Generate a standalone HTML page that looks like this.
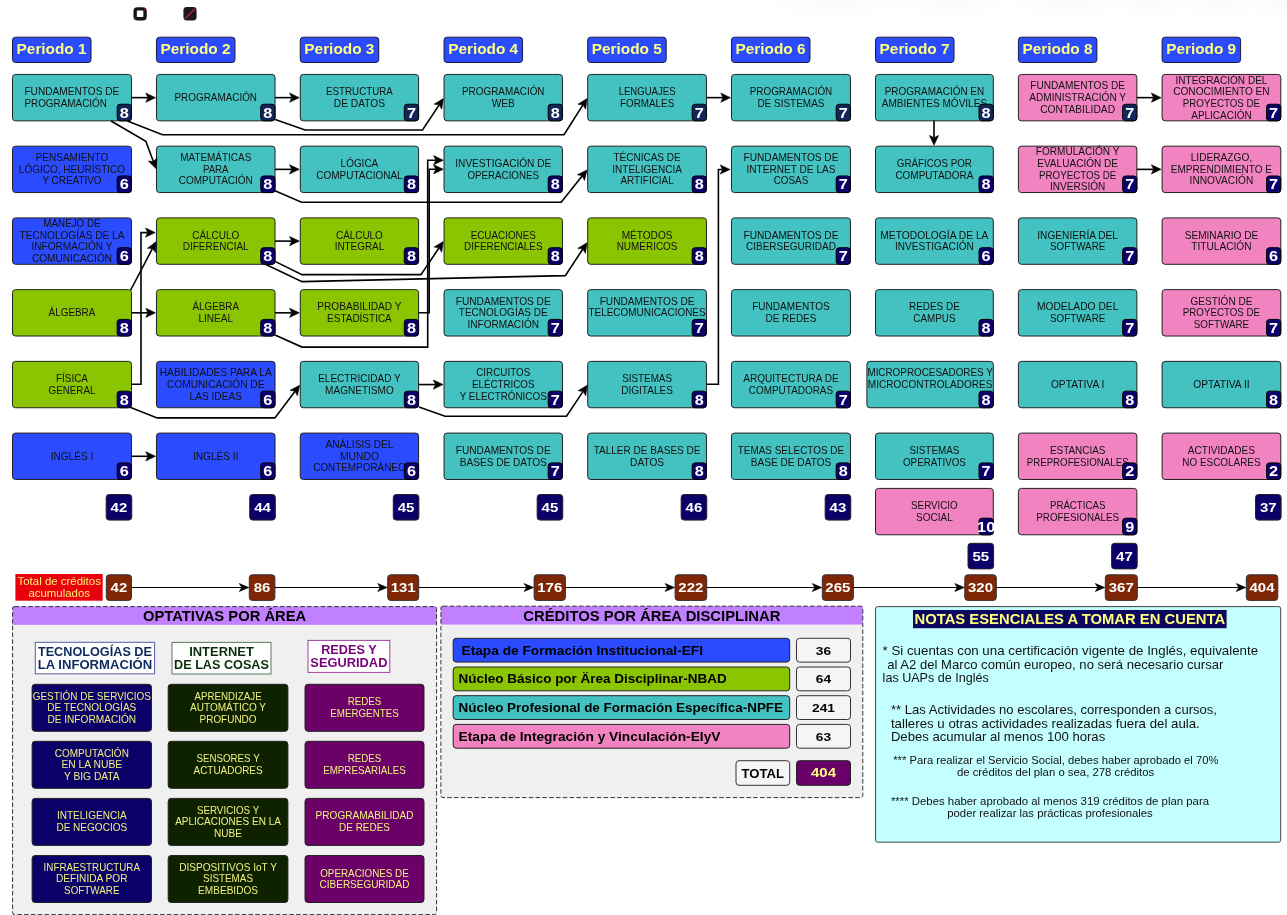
<!DOCTYPE html>
<html><head><meta charset="utf-8"><title>Plan de estudios</title>
<style>
html,body{margin:0;padding:0;background:#fff;width:1287px;height:915px;overflow:hidden}
svg{display:block;will-change:transform;font-family:"Liberation Sans",sans-serif}
text{white-space:pre}
</style></head><body>
<svg width="1287" height="915" viewBox="0 0 1287 915">
<defs><radialGradient id="haze" cx="0.5" cy="0.5" r="0.5"><stop offset="0" stop-color="#000" stop-opacity="0.022"/><stop offset="1" stop-color="#000" stop-opacity="0"/></radialGradient></defs>
<ellipse cx="835" cy="-2" rx="75" ry="22" fill="url(#haze)"/><ellipse cx="950" cy="-2" rx="60" ry="22" fill="url(#haze)"/><ellipse cx="1070" cy="-2" rx="70" ry="22" fill="url(#haze)"/><ellipse cx="1150" cy="-2" rx="45" ry="22" fill="url(#haze)"/><ellipse cx="1220" cy="-2" rx="55" ry="22" fill="url(#haze)"/><ellipse cx="1287" cy="-2" rx="45" ry="22" fill="url(#haze)"/>
<rect x="12.50" y="37.20" width="78.50" height="25.30" rx="3" fill="#2b4bff" stroke="#1a1a40" stroke-width="1" />
<text x="16.62" y="54.30" font-size="13.78" font-weight="bold" fill="#ffff80" textLength="69.95" lengthAdjust="spacingAndGlyphs" >Periodo 1</text>
<rect x="156.47" y="37.20" width="78.50" height="25.30" rx="3" fill="#2b4bff" stroke="#1a1a40" stroke-width="1" />
<text x="160.59" y="54.30" font-size="13.78" font-weight="bold" fill="#ffff80" textLength="69.95" lengthAdjust="spacingAndGlyphs" >Periodo 2</text>
<rect x="300.27" y="37.20" width="78.50" height="25.30" rx="3" fill="#2b4bff" stroke="#1a1a40" stroke-width="1" />
<text x="304.39" y="54.30" font-size="13.78" font-weight="bold" fill="#ffff80" textLength="69.95" lengthAdjust="spacingAndGlyphs" >Periodo 3</text>
<rect x="444.04" y="37.20" width="78.50" height="25.30" rx="3" fill="#2b4bff" stroke="#1a1a40" stroke-width="1" />
<text x="448.16" y="54.30" font-size="13.78" font-weight="bold" fill="#ffff80" textLength="69.95" lengthAdjust="spacingAndGlyphs" >Periodo 4</text>
<rect x="587.70" y="37.20" width="78.50" height="25.30" rx="3" fill="#2b4bff" stroke="#1a1a40" stroke-width="1" />
<text x="591.82" y="54.30" font-size="13.78" font-weight="bold" fill="#ffff80" textLength="69.95" lengthAdjust="spacingAndGlyphs" >Periodo 5</text>
<rect x="731.47" y="37.20" width="78.50" height="25.30" rx="3" fill="#2b4bff" stroke="#1a1a40" stroke-width="1" />
<text x="735.59" y="54.30" font-size="13.78" font-weight="bold" fill="#ffff80" textLength="69.95" lengthAdjust="spacingAndGlyphs" >Periodo 6</text>
<rect x="875.50" y="37.20" width="78.50" height="25.30" rx="3" fill="#2b4bff" stroke="#1a1a40" stroke-width="1" />
<text x="879.62" y="54.30" font-size="13.78" font-weight="bold" fill="#ffff80" textLength="69.95" lengthAdjust="spacingAndGlyphs" >Periodo 7</text>
<rect x="1018.40" y="37.20" width="78.50" height="25.30" rx="3" fill="#2b4bff" stroke="#1a1a40" stroke-width="1" />
<text x="1022.52" y="54.30" font-size="13.78" font-weight="bold" fill="#ffff80" textLength="69.95" lengthAdjust="spacingAndGlyphs" >Periodo 8</text>
<rect x="1162.10" y="37.20" width="78.50" height="25.30" rx="3" fill="#2b4bff" stroke="#1a1a40" stroke-width="1" />
<text x="1166.22" y="54.30" font-size="13.78" font-weight="bold" fill="#ffff80" textLength="69.95" lengthAdjust="spacingAndGlyphs" >Periodo 9</text>
<rect x="12.50" y="74.44" width="118.97" height="46.40" rx="3" fill="#44c1c1" stroke="#222" stroke-width="1" />
<text x="24.40" y="95.22" font-size="10.60"  fill="#111" textLength="94.87" lengthAdjust="spacingAndGlyphs" >FUNDAMENTOS DE</text>
<text x="24.40" y="106.87" font-size="10.60"  fill="#111" textLength="82.56" lengthAdjust="spacingAndGlyphs" >PROGRAMACIÓN</text>
<rect x="117.17" y="104.24" width="14.30" height="16.60" rx="3" fill="#13265a" stroke="#000" stroke-width="1" />
<text x="119.80" y="117.64" font-size="13.78" font-weight="bold" fill="#fff" textLength="9.05" lengthAdjust="spacingAndGlyphs" >8</text>
<rect x="12.50" y="146.17" width="118.97" height="46.40" rx="3" fill="#2b4bff" stroke="#222" stroke-width="1" />
<text x="35.71" y="161.12" font-size="10.60"  fill="#111" textLength="72.56" lengthAdjust="spacingAndGlyphs" >PENSAMIENTO</text>
<text x="18.83" y="172.77" font-size="10.60"  fill="#111" textLength="106.31" lengthAdjust="spacingAndGlyphs" >LÓGICO, HEURÍSTICO</text>
<text x="42.39" y="184.42" font-size="10.60"  fill="#111" textLength="59.19" lengthAdjust="spacingAndGlyphs" >Y CREATIVO</text>
<rect x="117.17" y="175.97" width="14.30" height="16.60" rx="3" fill="#0c006c" stroke="#000" stroke-width="1" />
<text x="119.80" y="189.37" font-size="13.78" font-weight="bold" fill="#fff" textLength="9.05" lengthAdjust="spacingAndGlyphs" >6</text>
<rect x="12.50" y="217.90" width="118.97" height="46.40" rx="3" fill="#2b4bff" stroke="#222" stroke-width="1" />
<text x="43.34" y="227.03" font-size="10.60"  fill="#111" textLength="57.29" lengthAdjust="spacingAndGlyphs" >MANEJO DE</text>
<text x="19.61" y="238.68" font-size="10.60"  fill="#111" textLength="104.75" lengthAdjust="spacingAndGlyphs" >TECNOLOGÍAS DE LA</text>
<text x="31.55" y="250.33" font-size="10.60"  fill="#111" textLength="80.86" lengthAdjust="spacingAndGlyphs" >INFORMACIÓN Y</text>
<text x="31.90" y="261.98" font-size="10.60"  fill="#111" textLength="80.16" lengthAdjust="spacingAndGlyphs" >COMUNICACIÓN</text>
<rect x="117.17" y="247.70" width="14.30" height="16.60" rx="3" fill="#0c006c" stroke="#000" stroke-width="1" />
<text x="119.80" y="261.10" font-size="13.78" font-weight="bold" fill="#fff" textLength="9.05" lengthAdjust="spacingAndGlyphs" >6</text>
<rect x="12.50" y="289.63" width="118.97" height="46.40" rx="3" fill="#8bc400" stroke="#222" stroke-width="1" />
<text x="48.62" y="316.23" font-size="10.60"  fill="#111" textLength="46.72" lengthAdjust="spacingAndGlyphs" >ÁLGEBRA</text>
<rect x="117.17" y="319.43" width="14.30" height="16.60" rx="3" fill="#0c006c" stroke="#000" stroke-width="1" />
<text x="119.80" y="332.83" font-size="13.78" font-weight="bold" fill="#fff" textLength="9.05" lengthAdjust="spacingAndGlyphs" >8</text>
<rect x="12.50" y="361.36" width="118.97" height="46.40" rx="3" fill="#8bc400" stroke="#222" stroke-width="1" />
<text x="56.07" y="382.13" font-size="10.60"  fill="#111" textLength="31.82" lengthAdjust="spacingAndGlyphs" >FÍSICA</text>
<text x="48.57" y="393.78" font-size="10.60"  fill="#111" textLength="46.82" lengthAdjust="spacingAndGlyphs" >GENERAL</text>
<rect x="117.17" y="391.16" width="14.30" height="16.60" rx="3" fill="#0c006c" stroke="#000" stroke-width="1" />
<text x="119.80" y="404.56" font-size="13.78" font-weight="bold" fill="#fff" textLength="9.05" lengthAdjust="spacingAndGlyphs" >8</text>
<rect x="12.50" y="433.09" width="118.97" height="46.40" rx="3" fill="#2b4bff" stroke="#222" stroke-width="1" />
<text x="50.71" y="459.69" font-size="10.60"  fill="#111" textLength="42.54" lengthAdjust="spacingAndGlyphs" >INGLÉS I</text>
<rect x="117.17" y="462.89" width="14.30" height="16.60" rx="3" fill="#0c006c" stroke="#000" stroke-width="1" />
<text x="119.80" y="476.29" font-size="13.78" font-weight="bold" fill="#fff" textLength="9.05" lengthAdjust="spacingAndGlyphs" >6</text>
<rect x="156.47" y="74.44" width="118.55" height="46.40" rx="3" fill="#44c1c1" stroke="#222" stroke-width="1" />
<text x="174.47" y="101.04" font-size="10.60"  fill="#111" textLength="82.56" lengthAdjust="spacingAndGlyphs" >PROGRAMACIÓN</text>
<rect x="260.72" y="104.24" width="14.30" height="16.60" rx="3" fill="#13265a" stroke="#000" stroke-width="1" />
<text x="263.35" y="117.64" font-size="13.78" font-weight="bold" fill="#fff" textLength="9.05" lengthAdjust="spacingAndGlyphs" >8</text>
<rect x="156.47" y="146.17" width="118.55" height="46.40" rx="3" fill="#44c1c1" stroke="#222" stroke-width="1" />
<text x="180.22" y="161.12" font-size="10.60"  fill="#111" textLength="71.04" lengthAdjust="spacingAndGlyphs" >MATEMÁTICAS</text>
<text x="202.94" y="172.77" font-size="10.60"  fill="#111" textLength="25.62" lengthAdjust="spacingAndGlyphs" >PARA</text>
<text x="178.69" y="184.42" font-size="10.60"  fill="#111" textLength="74.11" lengthAdjust="spacingAndGlyphs" >COMPUTACIÓN</text>
<rect x="260.72" y="175.97" width="14.30" height="16.60" rx="3" fill="#0c006c" stroke="#000" stroke-width="1" />
<text x="263.35" y="189.37" font-size="13.78" font-weight="bold" fill="#fff" textLength="9.05" lengthAdjust="spacingAndGlyphs" >8</text>
<rect x="156.47" y="217.90" width="118.55" height="46.40" rx="3" fill="#8bc400" stroke="#222" stroke-width="1" />
<text x="192.35" y="238.68" font-size="10.60"  fill="#111" textLength="46.78" lengthAdjust="spacingAndGlyphs" >CÁLCULO</text>
<text x="182.84" y="250.33" font-size="10.60"  fill="#111" textLength="65.81" lengthAdjust="spacingAndGlyphs" >DIFERENCIAL</text>
<rect x="260.72" y="247.70" width="14.30" height="16.60" rx="3" fill="#0c006c" stroke="#000" stroke-width="1" />
<text x="263.35" y="261.10" font-size="13.78" font-weight="bold" fill="#fff" textLength="9.05" lengthAdjust="spacingAndGlyphs" >8</text>
<rect x="156.47" y="289.63" width="118.55" height="46.40" rx="3" fill="#8bc400" stroke="#222" stroke-width="1" />
<text x="192.38" y="310.40" font-size="10.60"  fill="#111" textLength="46.72" lengthAdjust="spacingAndGlyphs" >ÁLGEBRA</text>
<text x="198.38" y="322.05" font-size="10.60"  fill="#111" textLength="34.73" lengthAdjust="spacingAndGlyphs" >LINEAL</text>
<rect x="260.72" y="319.43" width="14.30" height="16.60" rx="3" fill="#0c006c" stroke="#000" stroke-width="1" />
<text x="263.35" y="332.83" font-size="13.78" font-weight="bold" fill="#fff" textLength="9.05" lengthAdjust="spacingAndGlyphs" >8</text>
<rect x="156.47" y="361.36" width="118.55" height="46.40" rx="3" fill="#2b4bff" stroke="#222" stroke-width="1" />
<text x="159.73" y="376.31" font-size="10.60"  fill="#111" textLength="112.04" lengthAdjust="spacingAndGlyphs" >HABILIDADES PARA LA</text>
<text x="167.07" y="387.96" font-size="10.60"  fill="#111" textLength="97.36" lengthAdjust="spacingAndGlyphs" >COMUNICACIÓN DE</text>
<text x="189.58" y="399.61" font-size="10.60"  fill="#111" textLength="52.32" lengthAdjust="spacingAndGlyphs" >LAS IDEAS</text>
<rect x="260.72" y="391.16" width="14.30" height="16.60" rx="3" fill="#0c006c" stroke="#000" stroke-width="1" />
<text x="263.35" y="404.56" font-size="13.78" font-weight="bold" fill="#fff" textLength="9.05" lengthAdjust="spacingAndGlyphs" >6</text>
<rect x="156.47" y="433.09" width="118.55" height="46.40" rx="3" fill="#2b4bff" stroke="#222" stroke-width="1" />
<text x="193.00" y="459.69" font-size="10.60"  fill="#111" textLength="45.49" lengthAdjust="spacingAndGlyphs" >INGLÉS II</text>
<rect x="260.72" y="462.89" width="14.30" height="16.60" rx="3" fill="#0c006c" stroke="#000" stroke-width="1" />
<text x="263.35" y="476.29" font-size="13.78" font-weight="bold" fill="#fff" textLength="9.05" lengthAdjust="spacingAndGlyphs" >6</text>
<rect x="300.27" y="74.44" width="118.31" height="46.40" rx="3" fill="#44c1c1" stroke="#222" stroke-width="1" />
<text x="326.01" y="95.22" font-size="10.60"  fill="#111" textLength="66.84" lengthAdjust="spacingAndGlyphs" >ESTRUCTURA</text>
<text x="333.87" y="106.87" font-size="10.60"  fill="#111" textLength="51.11" lengthAdjust="spacingAndGlyphs" >DE DATOS</text>
<rect x="404.28" y="104.24" width="14.30" height="16.60" rx="3" fill="#13265a" stroke="#000" stroke-width="1" />
<text x="406.91" y="117.64" font-size="13.78" font-weight="bold" fill="#fff" textLength="9.05" lengthAdjust="spacingAndGlyphs" >7</text>
<rect x="300.27" y="146.17" width="118.31" height="46.40" rx="3" fill="#44c1c1" stroke="#222" stroke-width="1" />
<text x="340.62" y="166.95" font-size="10.60"  fill="#111" textLength="37.61" lengthAdjust="spacingAndGlyphs" >LÓGICA</text>
<text x="316.16" y="178.60" font-size="10.60"  fill="#111" textLength="86.52" lengthAdjust="spacingAndGlyphs" >COMPUTACIONAL</text>
<rect x="404.28" y="175.97" width="14.30" height="16.60" rx="3" fill="#0c006c" stroke="#000" stroke-width="1" />
<text x="406.91" y="189.37" font-size="13.78" font-weight="bold" fill="#fff" textLength="9.05" lengthAdjust="spacingAndGlyphs" >8</text>
<rect x="300.27" y="217.90" width="118.31" height="46.40" rx="3" fill="#8bc400" stroke="#222" stroke-width="1" />
<text x="336.03" y="238.68" font-size="10.60"  fill="#111" textLength="46.78" lengthAdjust="spacingAndGlyphs" >CÁLCULO</text>
<text x="334.64" y="250.33" font-size="10.60"  fill="#111" textLength="49.56" lengthAdjust="spacingAndGlyphs" >INTEGRAL</text>
<rect x="404.28" y="247.70" width="14.30" height="16.60" rx="3" fill="#0c006c" stroke="#000" stroke-width="1" />
<text x="406.91" y="261.10" font-size="13.78" font-weight="bold" fill="#fff" textLength="9.05" lengthAdjust="spacingAndGlyphs" >8</text>
<rect x="300.27" y="289.63" width="118.31" height="46.40" rx="3" fill="#8bc400" stroke="#222" stroke-width="1" />
<text x="317.31" y="310.40" font-size="10.60"  fill="#111" textLength="84.23" lengthAdjust="spacingAndGlyphs" >PROBABILIDAD Y</text>
<text x="327.07" y="322.05" font-size="10.60"  fill="#111" textLength="64.72" lengthAdjust="spacingAndGlyphs" >ESTADÍSTICA</text>
<rect x="404.28" y="319.43" width="14.30" height="16.60" rx="3" fill="#0c006c" stroke="#000" stroke-width="1" />
<text x="406.91" y="332.83" font-size="13.78" font-weight="bold" fill="#fff" textLength="9.05" lengthAdjust="spacingAndGlyphs" >8</text>
<rect x="300.27" y="361.36" width="118.31" height="46.40" rx="3" fill="#44c1c1" stroke="#222" stroke-width="1" />
<text x="318.18" y="382.13" font-size="10.60"  fill="#111" textLength="82.48" lengthAdjust="spacingAndGlyphs" >ELECTRICIDAD Y</text>
<text x="325.05" y="393.78" font-size="10.60"  fill="#111" textLength="68.75" lengthAdjust="spacingAndGlyphs" >MAGNETISMO</text>
<rect x="404.28" y="391.16" width="14.30" height="16.60" rx="3" fill="#0c006c" stroke="#000" stroke-width="1" />
<text x="406.91" y="404.56" font-size="13.78" font-weight="bold" fill="#fff" textLength="9.05" lengthAdjust="spacingAndGlyphs" >8</text>
<rect x="300.27" y="433.09" width="118.31" height="46.40" rx="3" fill="#2b4bff" stroke="#222" stroke-width="1" />
<text x="325.38" y="448.04" font-size="10.60"  fill="#111" textLength="68.10" lengthAdjust="spacingAndGlyphs" >ANÁLISIS DEL</text>
<text x="339.93" y="459.69" font-size="10.60"  fill="#111" textLength="39.00" lengthAdjust="spacingAndGlyphs" >MUNDO</text>
<text x="313.25" y="471.34" font-size="10.60"  fill="#111" textLength="92.34" lengthAdjust="spacingAndGlyphs" >CONTEMPORÁNEO</text>
<rect x="404.28" y="462.89" width="14.30" height="16.60" rx="3" fill="#0c006c" stroke="#000" stroke-width="1" />
<text x="406.91" y="476.29" font-size="13.78" font-weight="bold" fill="#fff" textLength="9.05" lengthAdjust="spacingAndGlyphs" >6</text>
<rect x="444.04" y="74.44" width="118.42" height="46.40" rx="3" fill="#44c1c1" stroke="#222" stroke-width="1" />
<text x="461.97" y="95.22" font-size="10.60"  fill="#111" textLength="82.56" lengthAdjust="spacingAndGlyphs" >PROGRAMACIÓN</text>
<text x="491.72" y="106.87" font-size="10.60"  fill="#111" textLength="23.07" lengthAdjust="spacingAndGlyphs" >WEB</text>
<rect x="548.16" y="104.24" width="14.30" height="16.60" rx="3" fill="#13265a" stroke="#000" stroke-width="1" />
<text x="550.79" y="117.64" font-size="13.78" font-weight="bold" fill="#fff" textLength="9.05" lengthAdjust="spacingAndGlyphs" >8</text>
<rect x="444.04" y="146.17" width="118.42" height="46.40" rx="3" fill="#44c1c1" stroke="#222" stroke-width="1" />
<text x="455.31" y="166.95" font-size="10.60"  fill="#111" textLength="95.89" lengthAdjust="spacingAndGlyphs" >INVESTIGACIÓN DE</text>
<text x="467.56" y="178.60" font-size="10.60"  fill="#111" textLength="71.38" lengthAdjust="spacingAndGlyphs" >OPERACIONES</text>
<rect x="548.16" y="175.97" width="14.30" height="16.60" rx="3" fill="#0c006c" stroke="#000" stroke-width="1" />
<text x="550.79" y="189.37" font-size="13.78" font-weight="bold" fill="#fff" textLength="9.05" lengthAdjust="spacingAndGlyphs" >8</text>
<rect x="444.04" y="217.90" width="118.42" height="46.40" rx="3" fill="#8bc400" stroke="#222" stroke-width="1" />
<text x="470.63" y="238.68" font-size="10.60"  fill="#111" textLength="65.23" lengthAdjust="spacingAndGlyphs" >ECUACIONES</text>
<text x="464.01" y="250.33" font-size="10.60"  fill="#111" textLength="78.48" lengthAdjust="spacingAndGlyphs" >DIFERENCIALES</text>
<rect x="548.16" y="247.70" width="14.30" height="16.60" rx="3" fill="#0c006c" stroke="#000" stroke-width="1" />
<text x="550.79" y="261.10" font-size="13.78" font-weight="bold" fill="#fff" textLength="9.05" lengthAdjust="spacingAndGlyphs" >8</text>
<rect x="444.04" y="289.63" width="118.42" height="46.40" rx="3" fill="#44c1c1" stroke="#222" stroke-width="1" />
<text x="455.82" y="304.58" font-size="10.60"  fill="#111" textLength="94.87" lengthAdjust="spacingAndGlyphs" >FUNDAMENTOS DE</text>
<text x="458.78" y="316.23" font-size="10.60"  fill="#111" textLength="88.93" lengthAdjust="spacingAndGlyphs" >TECNOLOGÍAS DE</text>
<text x="467.46" y="327.88" font-size="10.60"  fill="#111" textLength="71.58" lengthAdjust="spacingAndGlyphs" >INFORMACIÓN</text>
<rect x="548.16" y="319.43" width="14.30" height="16.60" rx="3" fill="#0c006c" stroke="#000" stroke-width="1" />
<text x="550.79" y="332.83" font-size="13.78" font-weight="bold" fill="#fff" textLength="9.05" lengthAdjust="spacingAndGlyphs" >7</text>
<rect x="444.04" y="361.36" width="118.42" height="46.40" rx="3" fill="#44c1c1" stroke="#222" stroke-width="1" />
<text x="476.27" y="376.31" font-size="10.60"  fill="#111" textLength="53.96" lengthAdjust="spacingAndGlyphs" >CIRCUITOS</text>
<text x="472.05" y="387.96" font-size="10.60"  fill="#111" textLength="62.40" lengthAdjust="spacingAndGlyphs" >ELÉCTRICOS</text>
<text x="459.73" y="399.61" font-size="10.60"  fill="#111" textLength="87.04" lengthAdjust="spacingAndGlyphs" >Y ELECTRÓNICOS</text>
<rect x="548.16" y="391.16" width="14.30" height="16.60" rx="3" fill="#0c006c" stroke="#000" stroke-width="1" />
<text x="550.79" y="404.56" font-size="13.78" font-weight="bold" fill="#fff" textLength="9.05" lengthAdjust="spacingAndGlyphs" >7</text>
<rect x="444.04" y="433.09" width="118.42" height="46.40" rx="3" fill="#44c1c1" stroke="#222" stroke-width="1" />
<text x="455.82" y="453.87" font-size="10.60"  fill="#111" textLength="94.87" lengthAdjust="spacingAndGlyphs" >FUNDAMENTOS DE</text>
<text x="459.75" y="465.51" font-size="10.60"  fill="#111" textLength="87.01" lengthAdjust="spacingAndGlyphs" >BASES DE DATOS</text>
<rect x="548.16" y="462.89" width="14.30" height="16.60" rx="3" fill="#0c006c" stroke="#000" stroke-width="1" />
<text x="550.79" y="476.29" font-size="13.78" font-weight="bold" fill="#fff" textLength="9.05" lengthAdjust="spacingAndGlyphs" >7</text>
<rect x="587.70" y="74.44" width="118.76" height="46.40" rx="3" fill="#44c1c1" stroke="#222" stroke-width="1" />
<text x="618.63" y="95.22" font-size="10.60"  fill="#111" textLength="56.89" lengthAdjust="spacingAndGlyphs" >LENGUAJES</text>
<text x="619.94" y="106.87" font-size="10.60"  fill="#111" textLength="54.28" lengthAdjust="spacingAndGlyphs" >FORMALES</text>
<rect x="692.16" y="104.24" width="14.30" height="16.60" rx="3" fill="#13265a" stroke="#000" stroke-width="1" />
<text x="694.79" y="117.64" font-size="13.78" font-weight="bold" fill="#fff" textLength="9.05" lengthAdjust="spacingAndGlyphs" >7</text>
<rect x="587.70" y="146.17" width="118.76" height="46.40" rx="3" fill="#44c1c1" stroke="#222" stroke-width="1" />
<text x="613.48" y="161.12" font-size="10.60"  fill="#111" textLength="67.21" lengthAdjust="spacingAndGlyphs" >TÉCNICAS DE</text>
<text x="612.23" y="172.77" font-size="10.60"  fill="#111" textLength="69.70" lengthAdjust="spacingAndGlyphs" >INTELIGENCIA</text>
<text x="620.50" y="184.42" font-size="10.60"  fill="#111" textLength="53.16" lengthAdjust="spacingAndGlyphs" >ARTIFICIAL</text>
<rect x="692.16" y="175.97" width="14.30" height="16.60" rx="3" fill="#0c006c" stroke="#000" stroke-width="1" />
<text x="694.79" y="189.37" font-size="13.78" font-weight="bold" fill="#fff" textLength="9.05" lengthAdjust="spacingAndGlyphs" >8</text>
<rect x="587.70" y="217.90" width="118.76" height="46.40" rx="3" fill="#8bc400" stroke="#222" stroke-width="1" />
<text x="621.66" y="238.68" font-size="10.60"  fill="#111" textLength="50.84" lengthAdjust="spacingAndGlyphs" >MÉTODOS</text>
<text x="616.66" y="250.33" font-size="10.60"  fill="#111" textLength="60.84" lengthAdjust="spacingAndGlyphs" >NUMÉRICOS</text>
<rect x="692.16" y="247.70" width="14.30" height="16.60" rx="3" fill="#0c006c" stroke="#000" stroke-width="1" />
<text x="694.79" y="261.10" font-size="13.78" font-weight="bold" fill="#fff" textLength="9.05" lengthAdjust="spacingAndGlyphs" >8</text>
<rect x="587.70" y="289.63" width="118.76" height="46.40" rx="3" fill="#44c1c1" stroke="#222" stroke-width="1" />
<text x="599.65" y="304.58" font-size="10.60"  fill="#111" textLength="94.87" lengthAdjust="spacingAndGlyphs" >FUNDAMENTOS DE</text>
<text x="588.51" y="316.23" font-size="10.60"  fill="#111" textLength="117.14" lengthAdjust="spacingAndGlyphs" >TELECOMUNICACIONES</text>
<rect x="692.16" y="319.43" width="14.30" height="16.60" rx="3" fill="#0c006c" stroke="#000" stroke-width="1" />
<text x="694.79" y="332.83" font-size="13.78" font-weight="bold" fill="#fff" textLength="9.05" lengthAdjust="spacingAndGlyphs" >7</text>
<rect x="587.70" y="361.36" width="118.76" height="46.40" rx="3" fill="#44c1c1" stroke="#222" stroke-width="1" />
<text x="622.14" y="382.13" font-size="10.60"  fill="#111" textLength="49.89" lengthAdjust="spacingAndGlyphs" >SISTEMAS</text>
<text x="621.20" y="393.78" font-size="10.60"  fill="#111" textLength="51.76" lengthAdjust="spacingAndGlyphs" >DIGITALES</text>
<rect x="692.16" y="391.16" width="14.30" height="16.60" rx="3" fill="#0c006c" stroke="#000" stroke-width="1" />
<text x="694.79" y="404.56" font-size="13.78" font-weight="bold" fill="#fff" textLength="9.05" lengthAdjust="spacingAndGlyphs" >8</text>
<rect x="587.70" y="433.09" width="118.76" height="46.40" rx="3" fill="#44c1c1" stroke="#222" stroke-width="1" />
<text x="593.64" y="453.87" font-size="10.60"  fill="#111" textLength="106.87" lengthAdjust="spacingAndGlyphs" >TALLER DE BASES DE</text>
<text x="630.12" y="465.51" font-size="10.60"  fill="#111" textLength="33.92" lengthAdjust="spacingAndGlyphs" >DATOS</text>
<rect x="692.16" y="462.89" width="14.30" height="16.60" rx="3" fill="#0c006c" stroke="#000" stroke-width="1" />
<text x="694.79" y="476.29" font-size="13.78" font-weight="bold" fill="#fff" textLength="9.05" lengthAdjust="spacingAndGlyphs" >8</text>
<rect x="731.47" y="74.44" width="118.99" height="46.40" rx="3" fill="#44c1c1" stroke="#222" stroke-width="1" />
<text x="749.69" y="95.22" font-size="10.60"  fill="#111" textLength="82.56" lengthAdjust="spacingAndGlyphs" >PROGRAMACIÓN</text>
<text x="757.42" y="106.87" font-size="10.60"  fill="#111" textLength="67.09" lengthAdjust="spacingAndGlyphs" >DE SISTEMAS</text>
<rect x="836.16" y="104.24" width="14.30" height="16.60" rx="3" fill="#13265a" stroke="#000" stroke-width="1" />
<text x="838.79" y="117.64" font-size="13.78" font-weight="bold" fill="#fff" textLength="9.05" lengthAdjust="spacingAndGlyphs" >7</text>
<rect x="731.47" y="146.17" width="118.99" height="46.40" rx="3" fill="#44c1c1" stroke="#222" stroke-width="1" />
<text x="743.53" y="161.12" font-size="10.60"  fill="#111" textLength="94.87" lengthAdjust="spacingAndGlyphs" >FUNDAMENTOS DE</text>
<text x="746.43" y="172.77" font-size="10.60"  fill="#111" textLength="89.08" lengthAdjust="spacingAndGlyphs" >INTERNET DE LAS</text>
<text x="773.68" y="184.42" font-size="10.60"  fill="#111" textLength="34.58" lengthAdjust="spacingAndGlyphs" >COSAS</text>
<rect x="836.16" y="175.97" width="14.30" height="16.60" rx="3" fill="#0c006c" stroke="#000" stroke-width="1" />
<text x="838.79" y="189.37" font-size="13.78" font-weight="bold" fill="#fff" textLength="9.05" lengthAdjust="spacingAndGlyphs" >7</text>
<rect x="731.47" y="217.90" width="118.99" height="46.40" rx="3" fill="#44c1c1" stroke="#222" stroke-width="1" />
<text x="743.53" y="238.68" font-size="10.60"  fill="#111" textLength="94.87" lengthAdjust="spacingAndGlyphs" >FUNDAMENTOS DE</text>
<text x="746.09" y="250.33" font-size="10.60"  fill="#111" textLength="89.76" lengthAdjust="spacingAndGlyphs" >CIBERSEGURIDAD</text>
<rect x="836.16" y="247.70" width="14.30" height="16.60" rx="3" fill="#0c006c" stroke="#000" stroke-width="1" />
<text x="838.79" y="261.10" font-size="13.78" font-weight="bold" fill="#fff" textLength="9.05" lengthAdjust="spacingAndGlyphs" >7</text>
<rect x="731.47" y="289.63" width="118.99" height="46.40" rx="3" fill="#44c1c1" stroke="#222" stroke-width="1" />
<text x="752.13" y="310.40" font-size="10.60"  fill="#111" textLength="77.67" lengthAdjust="spacingAndGlyphs" >FUNDAMENTOS</text>
<text x="765.55" y="322.05" font-size="10.60"  fill="#111" textLength="50.83" lengthAdjust="spacingAndGlyphs" >DE REDES</text>
<rect x="731.47" y="361.36" width="118.99" height="46.40" rx="3" fill="#44c1c1" stroke="#222" stroke-width="1" />
<text x="743.29" y="382.13" font-size="10.60"  fill="#111" textLength="95.35" lengthAdjust="spacingAndGlyphs" >ARQUITECTURA DE</text>
<text x="748.81" y="393.78" font-size="10.60"  fill="#111" textLength="84.31" lengthAdjust="spacingAndGlyphs" >COMPUTADORAS</text>
<rect x="836.16" y="391.16" width="14.30" height="16.60" rx="3" fill="#0c006c" stroke="#000" stroke-width="1" />
<text x="838.79" y="404.56" font-size="13.78" font-weight="bold" fill="#fff" textLength="9.05" lengthAdjust="spacingAndGlyphs" >7</text>
<rect x="731.47" y="433.09" width="118.99" height="46.40" rx="3" fill="#44c1c1" stroke="#222" stroke-width="1" />
<text x="737.72" y="453.87" font-size="10.60"  fill="#111" textLength="106.48" lengthAdjust="spacingAndGlyphs" >TEMAS SELECTOS DE</text>
<text x="750.64" y="465.51" font-size="10.60"  fill="#111" textLength="80.66" lengthAdjust="spacingAndGlyphs" >BASE DE DATOS</text>
<rect x="836.16" y="462.89" width="14.30" height="16.60" rx="3" fill="#0c006c" stroke="#000" stroke-width="1" />
<text x="838.79" y="476.29" font-size="13.78" font-weight="bold" fill="#fff" textLength="9.05" lengthAdjust="spacingAndGlyphs" >8</text>
<rect x="875.50" y="74.44" width="117.80" height="46.40" rx="3" fill="#44c1c1" stroke="#222" stroke-width="1" />
<text x="884.63" y="95.22" font-size="10.60"  fill="#111" textLength="99.54" lengthAdjust="spacingAndGlyphs" >PROGRAMACIÓN EN</text>
<text x="881.71" y="106.87" font-size="10.60"  fill="#111" textLength="105.38" lengthAdjust="spacingAndGlyphs" >AMBIENTES MÓVILES</text>
<rect x="979.00" y="104.24" width="14.30" height="16.60" rx="3" fill="#13265a" stroke="#000" stroke-width="1" />
<text x="981.63" y="117.64" font-size="13.78" font-weight="bold" fill="#fff" textLength="9.05" lengthAdjust="spacingAndGlyphs" >8</text>
<rect x="875.50" y="146.17" width="117.80" height="46.40" rx="3" fill="#44c1c1" stroke="#222" stroke-width="1" />
<text x="896.87" y="166.95" font-size="10.60"  fill="#111" textLength="75.06" lengthAdjust="spacingAndGlyphs" >GRÁFICOS POR</text>
<text x="895.42" y="178.60" font-size="10.60"  fill="#111" textLength="77.96" lengthAdjust="spacingAndGlyphs" >COMPUTADORA</text>
<rect x="979.00" y="175.97" width="14.30" height="16.60" rx="3" fill="#0c006c" stroke="#000" stroke-width="1" />
<text x="981.63" y="189.37" font-size="13.78" font-weight="bold" fill="#fff" textLength="9.05" lengthAdjust="spacingAndGlyphs" >8</text>
<rect x="875.50" y="217.90" width="117.80" height="46.40" rx="3" fill="#44c1c1" stroke="#222" stroke-width="1" />
<text x="880.33" y="238.68" font-size="10.60"  fill="#111" textLength="108.14" lengthAdjust="spacingAndGlyphs" >METODOLOGÍA DE LA</text>
<text x="895.05" y="250.33" font-size="10.60"  fill="#111" textLength="78.69" lengthAdjust="spacingAndGlyphs" >INVESTIGACIÓN</text>
<rect x="979.00" y="247.70" width="14.30" height="16.60" rx="3" fill="#0c006c" stroke="#000" stroke-width="1" />
<text x="981.63" y="261.10" font-size="13.78" font-weight="bold" fill="#fff" textLength="9.05" lengthAdjust="spacingAndGlyphs" >6</text>
<rect x="875.50" y="289.63" width="117.80" height="46.40" rx="3" fill="#44c1c1" stroke="#222" stroke-width="1" />
<text x="908.98" y="310.40" font-size="10.60"  fill="#111" textLength="50.83" lengthAdjust="spacingAndGlyphs" >REDES DE</text>
<text x="913.33" y="322.05" font-size="10.60"  fill="#111" textLength="42.15" lengthAdjust="spacingAndGlyphs" >CAMPUS</text>
<rect x="979.00" y="319.43" width="14.30" height="16.60" rx="3" fill="#0c006c" stroke="#000" stroke-width="1" />
<text x="981.63" y="332.83" font-size="13.78" font-weight="bold" fill="#fff" textLength="9.05" lengthAdjust="spacingAndGlyphs" >8</text>
<rect x="866.90" y="361.36" width="126.40" height="46.40" rx="3" fill="#44c1c1" stroke="#222" stroke-width="1" />
<text x="867.41" y="376.31" font-size="10.60"  fill="#111" textLength="125.38" lengthAdjust="spacingAndGlyphs" >MICROPROCESADORES Y</text>
<text x="867.87" y="387.96" font-size="10.60"  fill="#111" textLength="124.47" lengthAdjust="spacingAndGlyphs" >MICROCONTROLADORES</text>
<rect x="979.00" y="391.16" width="14.30" height="16.60" rx="3" fill="#0c006c" stroke="#000" stroke-width="1" />
<text x="981.63" y="404.56" font-size="13.78" font-weight="bold" fill="#fff" textLength="9.05" lengthAdjust="spacingAndGlyphs" >8</text>
<rect x="875.50" y="433.09" width="117.80" height="46.40" rx="3" fill="#44c1c1" stroke="#222" stroke-width="1" />
<text x="909.46" y="453.87" font-size="10.60"  fill="#111" textLength="49.89" lengthAdjust="spacingAndGlyphs" >SISTEMAS</text>
<text x="903.02" y="465.51" font-size="10.60"  fill="#111" textLength="62.77" lengthAdjust="spacingAndGlyphs" >OPERATIVOS</text>
<rect x="979.00" y="462.89" width="14.30" height="16.60" rx="3" fill="#0c006c" stroke="#000" stroke-width="1" />
<text x="981.63" y="476.29" font-size="13.78" font-weight="bold" fill="#fff" textLength="9.05" lengthAdjust="spacingAndGlyphs" >7</text>
<rect x="875.50" y="488.40" width="117.80" height="46.40" rx="3" fill="#f283c1" stroke="#222" stroke-width="1" />
<text x="911.07" y="509.17" font-size="10.60"  fill="#111" textLength="46.66" lengthAdjust="spacingAndGlyphs" >SERVICIO</text>
<text x="916.12" y="520.82" font-size="10.60"  fill="#111" textLength="36.56" lengthAdjust="spacingAndGlyphs" >SOCIAL</text>
<rect x="979.00" y="518.20" width="14.30" height="16.60" rx="3" fill="#0c006c" stroke="#000" stroke-width="1" />
<text x="977.10" y="531.60" font-size="13.78" font-weight="bold" fill="#fff" textLength="18.09" lengthAdjust="spacingAndGlyphs" >10</text>
<rect x="1018.40" y="74.44" width="118.50" height="46.40" rx="3" fill="#f283c1" stroke="#222" stroke-width="1" />
<text x="1030.22" y="89.39" font-size="10.60"  fill="#111" textLength="94.87" lengthAdjust="spacingAndGlyphs" >FUNDAMENTOS DE</text>
<text x="1029.26" y="101.04" font-size="10.60"  fill="#111" textLength="96.78" lengthAdjust="spacingAndGlyphs" >ADMINISTRACIÓN Y</text>
<text x="1040.20" y="112.69" font-size="10.60"  fill="#111" textLength="74.90" lengthAdjust="spacingAndGlyphs" >CONTABILIDAD</text>
<rect x="1122.60" y="104.24" width="14.30" height="16.60" rx="3" fill="#13265a" stroke="#000" stroke-width="1" />
<text x="1125.23" y="117.64" font-size="13.78" font-weight="bold" fill="#fff" textLength="9.05" lengthAdjust="spacingAndGlyphs" >7</text>
<rect x="1018.40" y="146.17" width="118.50" height="46.40" rx="3" fill="#f283c1" stroke="#222" stroke-width="1" />
<text x="1035.87" y="155.30" font-size="10.60"  fill="#111" textLength="83.56" lengthAdjust="spacingAndGlyphs" >FORMULACIÓN Y</text>
<text x="1037.20" y="166.95" font-size="10.60"  fill="#111" textLength="80.90" lengthAdjust="spacingAndGlyphs" >EVALUACIÓN DE</text>
<text x="1039.03" y="178.60" font-size="10.60"  fill="#111" textLength="77.24" lengthAdjust="spacingAndGlyphs" >PROYECTOS DE</text>
<text x="1050.06" y="190.25" font-size="10.60"  fill="#111" textLength="55.19" lengthAdjust="spacingAndGlyphs" >INVERSIÓN</text>
<rect x="1122.60" y="175.97" width="14.30" height="16.60" rx="3" fill="#0c006c" stroke="#000" stroke-width="1" />
<text x="1125.23" y="189.37" font-size="13.78" font-weight="bold" fill="#fff" textLength="9.05" lengthAdjust="spacingAndGlyphs" >7</text>
<rect x="1018.40" y="217.90" width="118.50" height="46.40" rx="3" fill="#44c1c1" stroke="#222" stroke-width="1" />
<text x="1037.27" y="238.68" font-size="10.60"  fill="#111" textLength="80.75" lengthAdjust="spacingAndGlyphs" >INGENIERÍA DEL</text>
<text x="1049.97" y="250.33" font-size="10.60"  fill="#111" textLength="55.35" lengthAdjust="spacingAndGlyphs" >SOFTWARE</text>
<rect x="1122.60" y="247.70" width="14.30" height="16.60" rx="3" fill="#0c006c" stroke="#000" stroke-width="1" />
<text x="1125.23" y="261.10" font-size="13.78" font-weight="bold" fill="#fff" textLength="9.05" lengthAdjust="spacingAndGlyphs" >7</text>
<rect x="1018.40" y="289.63" width="118.50" height="46.40" rx="3" fill="#44c1c1" stroke="#222" stroke-width="1" />
<text x="1036.90" y="310.40" font-size="10.60"  fill="#111" textLength="81.50" lengthAdjust="spacingAndGlyphs" >MODELADO DEL</text>
<text x="1049.97" y="322.05" font-size="10.60"  fill="#111" textLength="55.35" lengthAdjust="spacingAndGlyphs" >SOFTWARE</text>
<rect x="1122.60" y="319.43" width="14.30" height="16.60" rx="3" fill="#0c006c" stroke="#000" stroke-width="1" />
<text x="1125.23" y="332.83" font-size="13.78" font-weight="bold" fill="#fff" textLength="9.05" lengthAdjust="spacingAndGlyphs" >7</text>
<rect x="1018.40" y="361.36" width="118.50" height="46.40" rx="3" fill="#44c1c1" stroke="#222" stroke-width="1" />
<text x="1050.89" y="387.96" font-size="10.60"  fill="#111" textLength="53.53" lengthAdjust="spacingAndGlyphs" >OPTATIVA I</text>
<rect x="1122.60" y="391.16" width="14.30" height="16.60" rx="3" fill="#0c006c" stroke="#000" stroke-width="1" />
<text x="1125.23" y="404.56" font-size="13.78" font-weight="bold" fill="#fff" textLength="9.05" lengthAdjust="spacingAndGlyphs" >8</text>
<rect x="1018.40" y="433.09" width="118.50" height="46.40" rx="3" fill="#f283c1" stroke="#222" stroke-width="1" />
<text x="1049.93" y="453.87" font-size="10.60"  fill="#111" textLength="55.44" lengthAdjust="spacingAndGlyphs" >ESTANCIAS</text>
<text x="1026.68" y="465.51" font-size="10.60"  fill="#111" textLength="101.94" lengthAdjust="spacingAndGlyphs" >PREPROFESIONALES</text>
<rect x="1122.60" y="462.89" width="14.30" height="16.60" rx="3" fill="#0c006c" stroke="#000" stroke-width="1" />
<text x="1125.23" y="476.29" font-size="13.78" font-weight="bold" fill="#fff" textLength="9.05" lengthAdjust="spacingAndGlyphs" >2</text>
<rect x="1018.40" y="488.40" width="118.50" height="46.40" rx="3" fill="#f283c1" stroke="#222" stroke-width="1" />
<text x="1049.93" y="509.17" font-size="10.60"  fill="#111" textLength="55.45" lengthAdjust="spacingAndGlyphs" >PRÁCTICAS</text>
<text x="1036.33" y="520.82" font-size="10.60"  fill="#111" textLength="82.65" lengthAdjust="spacingAndGlyphs" >PROFESIONALES</text>
<rect x="1122.60" y="518.20" width="14.30" height="16.60" rx="3" fill="#0c006c" stroke="#000" stroke-width="1" />
<text x="1125.23" y="531.60" font-size="13.78" font-weight="bold" fill="#fff" textLength="9.05" lengthAdjust="spacingAndGlyphs" >9</text>
<rect x="1162.10" y="74.44" width="118.70" height="46.40" rx="3" fill="#f283c1" stroke="#222" stroke-width="1" />
<text x="1175.52" y="83.56" font-size="10.60"  fill="#111" textLength="91.87" lengthAdjust="spacingAndGlyphs" >INTEGRACIÓN DEL</text>
<text x="1173.21" y="95.22" font-size="10.60"  fill="#111" textLength="96.47" lengthAdjust="spacingAndGlyphs" >CONOCIMIENTO EN</text>
<text x="1182.83" y="106.86" font-size="10.60"  fill="#111" textLength="77.24" lengthAdjust="spacingAndGlyphs" >PROYECTOS DE</text>
<text x="1191.29" y="118.52" font-size="10.60"  fill="#111" textLength="60.32" lengthAdjust="spacingAndGlyphs" >APLICACIÓN</text>
<rect x="1266.50" y="104.24" width="14.30" height="16.60" rx="3" fill="#0c006c" stroke="#000" stroke-width="1" />
<text x="1269.13" y="117.64" font-size="13.78" font-weight="bold" fill="#fff" textLength="9.05" lengthAdjust="spacingAndGlyphs" >7</text>
<rect x="1162.10" y="146.17" width="118.70" height="46.40" rx="3" fill="#f283c1" stroke="#222" stroke-width="1" />
<text x="1190.66" y="161.12" font-size="10.60"  fill="#111" textLength="61.57" lengthAdjust="spacingAndGlyphs" >LIDERAZGO,</text>
<text x="1170.84" y="172.77" font-size="10.60"  fill="#111" textLength="101.23" lengthAdjust="spacingAndGlyphs" >EMPRENDIMIENTO E</text>
<text x="1189.57" y="184.42" font-size="10.60"  fill="#111" textLength="63.75" lengthAdjust="spacingAndGlyphs" >INNOVACIÓN</text>
<rect x="1266.50" y="175.97" width="14.30" height="16.60" rx="3" fill="#0c006c" stroke="#000" stroke-width="1" />
<text x="1269.13" y="189.37" font-size="13.78" font-weight="bold" fill="#fff" textLength="9.05" lengthAdjust="spacingAndGlyphs" >7</text>
<rect x="1162.10" y="217.90" width="118.70" height="46.40" rx="3" fill="#f283c1" stroke="#222" stroke-width="1" />
<text x="1184.68" y="238.68" font-size="10.60"  fill="#111" textLength="73.53" lengthAdjust="spacingAndGlyphs" >SEMINARIO DE</text>
<text x="1191.33" y="250.33" font-size="10.60"  fill="#111" textLength="60.23" lengthAdjust="spacingAndGlyphs" >TITULACIÓN</text>
<rect x="1266.50" y="247.70" width="14.30" height="16.60" rx="3" fill="#0c006c" stroke="#000" stroke-width="1" />
<text x="1269.13" y="261.10" font-size="13.78" font-weight="bold" fill="#fff" textLength="9.05" lengthAdjust="spacingAndGlyphs" >6</text>
<rect x="1162.10" y="289.63" width="118.70" height="46.40" rx="3" fill="#f283c1" stroke="#222" stroke-width="1" />
<text x="1190.44" y="304.58" font-size="10.60"  fill="#111" textLength="62.02" lengthAdjust="spacingAndGlyphs" >GESTIÓN DE</text>
<text x="1182.83" y="316.23" font-size="10.60"  fill="#111" textLength="77.24" lengthAdjust="spacingAndGlyphs" >PROYECTOS DE</text>
<text x="1193.77" y="327.88" font-size="10.60"  fill="#111" textLength="55.35" lengthAdjust="spacingAndGlyphs" >SOFTWARE</text>
<rect x="1266.50" y="319.43" width="14.30" height="16.60" rx="3" fill="#0c006c" stroke="#000" stroke-width="1" />
<text x="1269.13" y="332.83" font-size="13.78" font-weight="bold" fill="#fff" textLength="9.05" lengthAdjust="spacingAndGlyphs" >7</text>
<rect x="1162.10" y="361.36" width="118.70" height="46.40" rx="3" fill="#44c1c1" stroke="#222" stroke-width="1" />
<text x="1193.21" y="387.96" font-size="10.60"  fill="#111" textLength="56.47" lengthAdjust="spacingAndGlyphs" >OPTATIVA II</text>
<rect x="1266.50" y="391.16" width="14.30" height="16.60" rx="3" fill="#0c006c" stroke="#000" stroke-width="1" />
<text x="1269.13" y="404.56" font-size="13.78" font-weight="bold" fill="#fff" textLength="9.05" lengthAdjust="spacingAndGlyphs" >8</text>
<rect x="1162.10" y="433.09" width="118.70" height="46.40" rx="3" fill="#f283c1" stroke="#222" stroke-width="1" />
<text x="1187.84" y="453.87" font-size="10.60"  fill="#111" textLength="67.23" lengthAdjust="spacingAndGlyphs" >ACTIVIDADES</text>
<text x="1182.30" y="465.51" font-size="10.60"  fill="#111" textLength="78.31" lengthAdjust="spacingAndGlyphs" >NO ESCOLARES</text>
<rect x="1266.50" y="462.89" width="14.30" height="16.60" rx="3" fill="#0c006c" stroke="#000" stroke-width="1" />
<text x="1269.13" y="476.29" font-size="13.78" font-weight="bold" fill="#fff" textLength="9.05" lengthAdjust="spacingAndGlyphs" >2</text>
<rect x="106.17" y="494.50" width="25.60" height="25.60" rx="3" fill="#0b006a" stroke="#222" stroke-width="1" />
<text x="110.62" y="511.90" font-size="12.72" font-weight="bold" fill="#fff" textLength="16.70" lengthAdjust="spacingAndGlyphs" >42</text>
<rect x="249.72" y="494.50" width="25.60" height="25.60" rx="3" fill="#0b006a" stroke="#222" stroke-width="1" />
<text x="254.17" y="511.90" font-size="12.72" font-weight="bold" fill="#fff" textLength="16.70" lengthAdjust="spacingAndGlyphs" >44</text>
<rect x="393.28" y="494.50" width="25.60" height="25.60" rx="3" fill="#0b006a" stroke="#222" stroke-width="1" />
<text x="397.73" y="511.90" font-size="12.72" font-weight="bold" fill="#fff" textLength="16.70" lengthAdjust="spacingAndGlyphs" >45</text>
<rect x="537.16" y="494.50" width="25.60" height="25.60" rx="3" fill="#0b006a" stroke="#222" stroke-width="1" />
<text x="541.61" y="511.90" font-size="12.72" font-weight="bold" fill="#fff" textLength="16.70" lengthAdjust="spacingAndGlyphs" >45</text>
<rect x="681.16" y="494.50" width="25.60" height="25.60" rx="3" fill="#0b006a" stroke="#222" stroke-width="1" />
<text x="685.61" y="511.90" font-size="12.72" font-weight="bold" fill="#fff" textLength="16.70" lengthAdjust="spacingAndGlyphs" >46</text>
<rect x="825.16" y="494.50" width="25.60" height="25.60" rx="3" fill="#0b006a" stroke="#222" stroke-width="1" />
<text x="829.61" y="511.90" font-size="12.72" font-weight="bold" fill="#fff" textLength="16.70" lengthAdjust="spacingAndGlyphs" >43</text>
<rect x="968.00" y="543.30" width="25.60" height="25.60" rx="3" fill="#0b006a" stroke="#222" stroke-width="1" />
<text x="972.45" y="560.70" font-size="12.72" font-weight="bold" fill="#fff" textLength="16.70" lengthAdjust="spacingAndGlyphs" >55</text>
<rect x="1111.60" y="543.30" width="25.60" height="25.60" rx="3" fill="#0b006a" stroke="#222" stroke-width="1" />
<text x="1116.05" y="560.70" font-size="12.72" font-weight="bold" fill="#fff" textLength="16.70" lengthAdjust="spacingAndGlyphs" >47</text>
<rect x="1255.50" y="494.50" width="25.60" height="25.60" rx="3" fill="#0b006a" stroke="#222" stroke-width="1" />
<text x="1259.95" y="511.90" font-size="12.72" font-weight="bold" fill="#fff" textLength="16.70" lengthAdjust="spacingAndGlyphs" >37</text>
<path d="M131.47,97.64 L147.97,97.64" fill="none" stroke="#000" stroke-width="1.6" stroke-linejoin="miter"/>
<path d="M155.47,97.64 L145.77,102.24 L147.97,97.64 L145.77,93.04 Z" fill="#000" stroke="#000" stroke-width="0.6"/>
<path d="M275.02,97.64 L291.77,97.64" fill="none" stroke="#000" stroke-width="1.6" stroke-linejoin="miter"/>
<path d="M299.27,97.64 L289.57,102.24 L291.77,97.64 L289.57,93.04 Z" fill="#000" stroke="#000" stroke-width="0.6"/>
<path d="M706.46,97.64 L722.97,97.64" fill="none" stroke="#000" stroke-width="1.6" stroke-linejoin="miter"/>
<path d="M730.47,97.64 L720.77,102.24 L722.97,97.64 L720.77,93.04 Z" fill="#000" stroke="#000" stroke-width="0.6"/>
<path d="M1136.90,97.64 L1153.60,97.64" fill="none" stroke="#000" stroke-width="1.6" stroke-linejoin="miter"/>
<path d="M1161.10,97.64 L1151.40,102.24 L1153.60,97.64 L1151.40,93.04 Z" fill="#000" stroke="#000" stroke-width="0.6"/>
<path d="M1136.90,169.37 L1153.60,169.37" fill="none" stroke="#000" stroke-width="1.6" stroke-linejoin="miter"/>
<path d="M1161.10,169.37 L1151.40,173.97 L1153.60,169.37 L1151.40,164.77 Z" fill="#000" stroke="#000" stroke-width="0.6"/>
<path d="M275.02,169.37 L291.77,169.37" fill="none" stroke="#000" stroke-width="1.6" stroke-linejoin="miter"/>
<path d="M299.27,169.37 L289.57,173.97 L291.77,169.37 L289.57,164.77 Z" fill="#000" stroke="#000" stroke-width="0.6"/>
<path d="M275.02,241.10 L291.77,241.10" fill="none" stroke="#000" stroke-width="1.6" stroke-linejoin="miter"/>
<path d="M299.27,241.10 L289.57,245.70 L291.77,241.10 L289.57,236.50 Z" fill="#000" stroke="#000" stroke-width="0.6"/>
<path d="M131.47,312.83 L147.97,312.83" fill="none" stroke="#000" stroke-width="1.6" stroke-linejoin="miter"/>
<path d="M155.47,312.83 L145.77,317.43 L147.97,312.83 L145.77,308.23 Z" fill="#000" stroke="#000" stroke-width="0.6"/>
<path d="M275.02,312.83 L291.77,312.83" fill="none" stroke="#000" stroke-width="1.6" stroke-linejoin="miter"/>
<path d="M299.27,312.83 L289.57,317.43 L291.77,312.83 L289.57,308.23 Z" fill="#000" stroke="#000" stroke-width="0.6"/>
<path d="M418.58,384.56 L435.54,384.56" fill="none" stroke="#000" stroke-width="1.6" stroke-linejoin="miter"/>
<path d="M443.04,384.56 L433.34,389.16 L435.54,384.56 L433.34,379.96 Z" fill="#000" stroke="#000" stroke-width="0.6"/>
<path d="M131.47,456.29 L147.97,456.29" fill="none" stroke="#000" stroke-width="1.6" stroke-linejoin="miter"/>
<path d="M155.47,456.29 L145.77,460.89 L147.97,456.29 L145.77,451.69 Z" fill="#000" stroke="#000" stroke-width="0.6"/>
<path d="M934.00,120.84 L934.00,137.67" fill="none" stroke="#000" stroke-width="1.6" stroke-linejoin="miter"/>
<path d="M934.00,145.17 L929.40,135.47 L934.00,137.67 L938.60,135.47 Z" fill="#000" stroke="#000" stroke-width="0.6"/>
<path d="M111.10,121.00 L145.80,141.30 L153.38,161.57" fill="none" stroke="#000" stroke-width="1.6" stroke-linejoin="miter"/>
<path d="M156.00,168.60 L148.30,161.12 L153.38,161.57 L156.91,157.90 Z" fill="#000" stroke="#000" stroke-width="0.6"/>
<path d="M127.40,121.00 L162.40,134.80 L564.00,134.80 L582.98,104.93" fill="none" stroke="#000" stroke-width="1.6" stroke-linejoin="miter"/>
<path d="M587.00,98.60 L585.68,109.25 L582.98,104.93 L577.92,104.32 Z" fill="#000" stroke="#000" stroke-width="0.6"/>
<path d="M275.20,119.40 L305.10,130.00 L422.50,130.00 L439.16,104.85" fill="none" stroke="#000" stroke-width="1.6" stroke-linejoin="miter"/>
<path d="M443.30,98.60 L441.78,109.23 L439.16,104.85 L434.11,104.15 Z" fill="#000" stroke="#000" stroke-width="0.6"/>
<path d="M275.00,190.80 L301.50,202.20 L561.20,202.20 L582.31,175.85" fill="none" stroke="#000" stroke-width="1.6" stroke-linejoin="miter"/>
<path d="M587.00,170.00 L584.52,180.45 L582.31,175.85 L577.34,174.69 Z" fill="#000" stroke="#000" stroke-width="0.6"/>
<path d="M275.00,261.40 L302.00,274.60 L421.00,274.60 L439.10,247.81" fill="none" stroke="#000" stroke-width="1.6" stroke-linejoin="miter"/>
<path d="M443.30,241.60 L441.68,252.21 L439.10,247.81 L434.06,247.06 Z" fill="#000" stroke="#000" stroke-width="0.6"/>
<path d="M266.00,264.50 L302.00,281.60 L565.30,275.60 L582.86,249.06" fill="none" stroke="#000" stroke-width="1.6" stroke-linejoin="miter"/>
<path d="M587.00,242.80 L585.48,253.43 L582.86,249.06 L577.81,248.35 Z" fill="#000" stroke="#000" stroke-width="0.6"/>
<path d="M275.00,335.10 L302.00,347.10 L427.70,347.10 L427.70,160.20 L435.80,160.20" fill="none" stroke="#000" stroke-width="1.6" stroke-linejoin="miter"/>
<path d="M443.30,160.20 L433.60,164.80 L435.80,160.20 L433.60,155.60 Z" fill="#000" stroke="#000" stroke-width="0.6"/>
<path d="M418.60,312.70 L429.20,312.70 L429.20,169.30 L435.80,169.30" fill="none" stroke="#000" stroke-width="1.6" stroke-linejoin="miter"/>
<path d="M443.30,169.30 L433.60,173.90 L435.80,169.30 L433.60,164.70 Z" fill="#000" stroke="#000" stroke-width="0.6"/>
<path d="M131.20,384.20 L141.00,384.20 L141.00,232.60 L147.70,232.60" fill="none" stroke="#000" stroke-width="1.6" stroke-linejoin="miter"/>
<path d="M155.20,232.60 L145.50,237.20 L147.70,232.60 L145.50,228.00 Z" fill="#000" stroke="#000" stroke-width="0.6"/>
<path d="M130.70,290.00 L152.51,248.44" fill="none" stroke="#000" stroke-width="1.6" stroke-linejoin="miter"/>
<path d="M156.00,241.80 L155.56,252.53 L152.51,248.44 L147.42,248.25 Z" fill="#000" stroke="#000" stroke-width="0.6"/>
<path d="M129.50,407.10 L157.10,417.90 L274.90,417.90 L295.07,391.28" fill="none" stroke="#000" stroke-width="1.6" stroke-linejoin="miter"/>
<path d="M299.60,385.30 L297.41,395.81 L295.07,391.28 L290.08,390.25 Z" fill="#000" stroke="#000" stroke-width="0.6"/>
<path d="M419.00,407.00 L445.00,416.30 L566.50,416.30 L583.13,391.43" fill="none" stroke="#000" stroke-width="1.6" stroke-linejoin="miter"/>
<path d="M587.30,385.20 L585.73,395.82 L583.13,391.43 L578.08,390.71 Z" fill="#000" stroke="#000" stroke-width="0.6"/>
<path d="M706.00,384.20 L718.40,384.20 L718.40,169.50 L722.50,169.50" fill="none" stroke="#000" stroke-width="1.6" stroke-linejoin="miter"/>
<path d="M730.00,169.50 L720.30,174.10 L722.50,169.50 L720.30,164.90 Z" fill="#000" stroke="#000" stroke-width="0.6"/>
<rect x="15.40" y="574.00" width="87.30" height="26.70" rx="0" fill="#e8000e" stroke="none" stroke-width="0" />
<text x="17.52" y="584.90" font-size="10.76"  fill="#fff070" textLength="83.36" lengthAdjust="spacingAndGlyphs" >Total de créditos</text>
<text x="28.43" y="597.00" font-size="10.76"  fill="#fff070" textLength="61.53" lengthAdjust="spacingAndGlyphs" >acumulados</text>
<rect x="106.30" y="574.80" width="25.20" height="25.60" rx="3" fill="#7f2604" stroke="#333" stroke-width="1" />
<text x="110.55" y="592.20" font-size="12.72" font-weight="bold" fill="#fff" textLength="16.70" lengthAdjust="spacingAndGlyphs" >42</text>
<path d="M131.50,587.50 L241.80,587.50" fill="none" stroke="#000" stroke-width="1.0" stroke-linejoin="miter"/>
<path d="M248.80,587.50 L239.30,591.50 L241.80,587.50 L239.30,583.50 Z" fill="#000" stroke="#000" stroke-width="0.6"/>
<rect x="249.30" y="574.80" width="25.60" height="25.60" rx="3" fill="#7f2604" stroke="#333" stroke-width="1" />
<text x="253.75" y="592.20" font-size="12.72" font-weight="bold" fill="#fff" textLength="16.70" lengthAdjust="spacingAndGlyphs" >86</text>
<path d="M274.90,587.50 L380.20,587.50" fill="none" stroke="#000" stroke-width="1.0" stroke-linejoin="miter"/>
<path d="M387.20,587.50 L377.70,591.50 L380.20,587.50 L377.70,583.50 Z" fill="#000" stroke="#000" stroke-width="0.6"/>
<rect x="387.70" y="574.80" width="31.00" height="25.60" rx="3" fill="#7f2604" stroke="#333" stroke-width="1" />
<text x="390.68" y="592.20" font-size="12.72" font-weight="bold" fill="#fff" textLength="25.05" lengthAdjust="spacingAndGlyphs" >131</text>
<path d="M418.70,587.50 L526.60,587.50" fill="none" stroke="#000" stroke-width="1.0" stroke-linejoin="miter"/>
<path d="M533.60,587.50 L524.10,591.50 L526.60,587.50 L524.10,583.50 Z" fill="#000" stroke="#000" stroke-width="0.6"/>
<rect x="534.10" y="574.80" width="31.30" height="25.60" rx="3" fill="#7f2604" stroke="#333" stroke-width="1" />
<text x="537.23" y="592.20" font-size="12.72" font-weight="bold" fill="#fff" textLength="25.05" lengthAdjust="spacingAndGlyphs" >176</text>
<path d="M565.40,587.50 L667.60,587.50" fill="none" stroke="#000" stroke-width="1.0" stroke-linejoin="miter"/>
<path d="M674.60,587.50 L665.10,591.50 L667.60,587.50 L665.10,583.50 Z" fill="#000" stroke="#000" stroke-width="0.6"/>
<rect x="675.10" y="574.80" width="31.60" height="25.60" rx="3" fill="#7f2604" stroke="#333" stroke-width="1" />
<text x="678.38" y="592.20" font-size="12.72" font-weight="bold" fill="#fff" textLength="25.05" lengthAdjust="spacingAndGlyphs" >222</text>
<path d="M706.70,587.50 L814.80,587.50" fill="none" stroke="#000" stroke-width="1.0" stroke-linejoin="miter"/>
<path d="M821.80,587.50 L812.30,591.50 L814.80,587.50 L812.30,583.50 Z" fill="#000" stroke="#000" stroke-width="0.6"/>
<rect x="822.30" y="574.80" width="31.10" height="25.60" rx="3" fill="#7f2604" stroke="#333" stroke-width="1" />
<text x="825.33" y="592.20" font-size="12.72" font-weight="bold" fill="#fff" textLength="25.05" lengthAdjust="spacingAndGlyphs" >265</text>
<path d="M853.40,587.50 L957.30,587.50" fill="none" stroke="#000" stroke-width="1.0" stroke-linejoin="miter"/>
<path d="M964.30,587.50 L954.80,591.50 L957.30,587.50 L954.80,583.50 Z" fill="#000" stroke="#000" stroke-width="0.6"/>
<rect x="964.80" y="574.80" width="31.50" height="25.60" rx="3" fill="#7f2604" stroke="#333" stroke-width="1" />
<text x="968.03" y="592.20" font-size="12.72" font-weight="bold" fill="#fff" textLength="25.05" lengthAdjust="spacingAndGlyphs" >320</text>
<path d="M996.30,587.50 L1097.80,587.50" fill="none" stroke="#000" stroke-width="1.0" stroke-linejoin="miter"/>
<path d="M1104.80,587.50 L1095.30,591.50 L1097.80,587.50 L1095.30,583.50 Z" fill="#000" stroke="#000" stroke-width="0.6"/>
<rect x="1105.30" y="574.80" width="32.00" height="25.60" rx="3" fill="#7f2604" stroke="#333" stroke-width="1" />
<text x="1108.78" y="592.20" font-size="12.72" font-weight="bold" fill="#fff" textLength="25.05" lengthAdjust="spacingAndGlyphs" >367</text>
<path d="M1137.30,587.50 L1238.80,587.50" fill="none" stroke="#000" stroke-width="1.0" stroke-linejoin="miter"/>
<path d="M1245.80,587.50 L1236.30,591.50 L1238.80,587.50 L1236.30,583.50 Z" fill="#000" stroke="#000" stroke-width="0.6"/>
<rect x="1246.30" y="574.80" width="31.50" height="25.60" rx="3" fill="#7f2604" stroke="#333" stroke-width="1" />
<text x="1249.53" y="592.20" font-size="12.72" font-weight="bold" fill="#fff" textLength="25.05" lengthAdjust="spacingAndGlyphs" >404</text>
<rect x="135.15" y="8.85" width="9.9" height="9.9" rx="2.2" fill="#fff" stroke="#151515" stroke-width="3.4"/>
<circle cx="135.6" cy="18.4" r="0.6" fill="#e02040"/><circle cx="144.6" cy="9.3" r="0.6" fill="#e02040"/>
<rect x="183.4" y="7.1" width="13.2" height="13.4" rx="3.4" fill="#1a1a1a"/>
<line x1="185.2" y1="18.6" x2="194.9" y2="8.9" stroke="#e8203c" stroke-width="1.1"/>
<rect x="12.6" y="606.6" width="424" height="308" fill="#f0f0f0" stroke="none"/>
<rect x="12.6" y="606.6" width="424" height="18.2" fill="#c080ff" stroke="none"/>
<rect x="12.6" y="606.6" width="424" height="308" fill="none" rx="2" stroke="#333" stroke-width="1" stroke-dasharray="4.6,2.2"/>
<text x="142.94" y="621.30" font-size="14.20" font-weight="bold" fill="#000" textLength="163.32" lengthAdjust="spacingAndGlyphs" >OPTATIVAS POR ÁREA</text>
<rect x="35.30" y="642.30" width="119.30" height="31.50" rx="0" fill="#fff" stroke="#5a5aa8" stroke-width="1" />
<text x="37.95" y="655.60" font-size="12.35" font-weight="bold" fill="#0d2a5c" textLength="114.01" lengthAdjust="spacingAndGlyphs" >TECNOLOGÍAS DE</text>
<text x="37.67" y="669.10" font-size="12.35" font-weight="bold" fill="#0d2a5c" textLength="114.56" lengthAdjust="spacingAndGlyphs" >LA INFORMACIÓN</text>
<rect x="172.00" y="642.40" width="99.00" height="31.60" rx="0" fill="#fff" stroke="#5a7a5a" stroke-width="1" />
<text x="189.19" y="655.70" font-size="12.35" font-weight="bold" fill="#0a300a" textLength="64.62" lengthAdjust="spacingAndGlyphs" >INTERNET</text>
<text x="174.09" y="669.20" font-size="12.35" font-weight="bold" fill="#0a300a" textLength="94.82" lengthAdjust="spacingAndGlyphs" >DE LAS COSAS</text>
<rect x="308.00" y="640.40" width="81.80" height="32.00" rx="0" fill="#fff" stroke="#a040a0" stroke-width="1" />
<text x="321.18" y="653.70" font-size="12.35" font-weight="bold" fill="#780078" textLength="55.44" lengthAdjust="spacingAndGlyphs" >REDES Y</text>
<text x="310.38" y="667.20" font-size="12.35" font-weight="bold" fill="#780078" textLength="77.03" lengthAdjust="spacingAndGlyphs" >SEGURIDAD</text>
<rect x="32.10" y="684.30" width="119.40" height="47.00" rx="3" fill="#0a0068" stroke="#222" stroke-width="1" />
<text x="32.70" y="699.55" font-size="10.60"  fill="#f0f080" textLength="118.21" lengthAdjust="spacingAndGlyphs" >GESTIÓN DE SERVICIOS</text>
<text x="47.33" y="711.20" font-size="10.60"  fill="#f0f080" textLength="88.93" lengthAdjust="spacingAndGlyphs" >DE TECNOLOGÍAS</text>
<text x="47.41" y="722.85" font-size="10.60"  fill="#f0f080" textLength="88.77" lengthAdjust="spacingAndGlyphs" >DE INFORMACIÓN</text>
<rect x="32.10" y="741.30" width="119.40" height="47.00" rx="3" fill="#0a0068" stroke="#222" stroke-width="1" />
<text x="54.74" y="756.55" font-size="10.60"  fill="#f0f080" textLength="74.11" lengthAdjust="spacingAndGlyphs" >COMPUTACIÓN</text>
<text x="61.41" y="768.20" font-size="10.60"  fill="#f0f080" textLength="60.78" lengthAdjust="spacingAndGlyphs" >EN LA NUBE</text>
<text x="63.91" y="779.85" font-size="10.60"  fill="#f0f080" textLength="55.79" lengthAdjust="spacingAndGlyphs" >Y BIG DATA</text>
<rect x="32.10" y="798.40" width="119.40" height="47.00" rx="3" fill="#0a0068" stroke="#222" stroke-width="1" />
<text x="56.95" y="819.47" font-size="10.60"  fill="#f0f080" textLength="69.70" lengthAdjust="spacingAndGlyphs" >INTELIGENCIA</text>
<text x="56.42" y="831.12" font-size="10.60"  fill="#f0f080" textLength="70.77" lengthAdjust="spacingAndGlyphs" >DE NEGOCIOS</text>
<rect x="32.10" y="855.50" width="119.40" height="47.00" rx="3" fill="#0a0068" stroke="#222" stroke-width="1" />
<text x="43.60" y="870.75" font-size="10.60"  fill="#f0f080" textLength="96.40" lengthAdjust="spacingAndGlyphs" >INFRAESTRUCTURA</text>
<text x="56.03" y="882.40" font-size="10.60"  fill="#f0f080" textLength="71.54" lengthAdjust="spacingAndGlyphs" >DEFINIDA POR</text>
<text x="64.12" y="894.05" font-size="10.60"  fill="#f0f080" textLength="55.35" lengthAdjust="spacingAndGlyphs" >SOFTWARE</text>
<rect x="168.20" y="684.30" width="119.70" height="47.00" rx="3" fill="#0e2200" stroke="#222" stroke-width="1" />
<text x="194.44" y="699.55" font-size="10.60"  fill="#f0f080" textLength="67.23" lengthAdjust="spacingAndGlyphs" >APRENDIZAJE</text>
<text x="190.03" y="711.20" font-size="10.60"  fill="#f0f080" textLength="76.03" lengthAdjust="spacingAndGlyphs" >AUTOMÁTICO Y</text>
<text x="199.56" y="722.85" font-size="10.60"  fill="#f0f080" textLength="56.97" lengthAdjust="spacingAndGlyphs" >PROFUNDO</text>
<rect x="168.20" y="741.30" width="119.70" height="47.00" rx="3" fill="#0e2200" stroke="#222" stroke-width="1" />
<text x="196.42" y="762.37" font-size="10.60"  fill="#f0f080" textLength="63.27" lengthAdjust="spacingAndGlyphs" >SENSORES Y</text>
<text x="193.50" y="774.02" font-size="10.60"  fill="#f0f080" textLength="69.10" lengthAdjust="spacingAndGlyphs" >ACTUADORES</text>
<rect x="168.20" y="798.40" width="119.70" height="47.00" rx="3" fill="#0e2200" stroke="#222" stroke-width="1" />
<text x="196.90" y="813.65" font-size="10.60"  fill="#f0f080" textLength="62.30" lengthAdjust="spacingAndGlyphs" >SERVICIOS Y</text>
<text x="175.16" y="825.30" font-size="10.60"  fill="#f0f080" textLength="105.79" lengthAdjust="spacingAndGlyphs" >APLICACIONES EN LA</text>
<text x="214.06" y="836.95" font-size="10.60"  fill="#f0f080" textLength="27.98" lengthAdjust="spacingAndGlyphs" >NUBE</text>
<rect x="168.20" y="855.50" width="119.70" height="47.00" rx="3" fill="#0e2200" stroke="#222" stroke-width="1" />
<text x="179.16" y="870.75" font-size="10.60"  fill="#f0f080" textLength="97.78" lengthAdjust="spacingAndGlyphs" >DISPOSITIVOS IoT Y</text>
<text x="203.11" y="882.40" font-size="10.60"  fill="#f0f080" textLength="49.89" lengthAdjust="spacingAndGlyphs" >SISTEMAS</text>
<text x="198.12" y="894.05" font-size="10.60"  fill="#f0f080" textLength="59.85" lengthAdjust="spacingAndGlyphs" >EMBEBIDOS</text>
<rect x="305.00" y="684.30" width="119.00" height="47.00" rx="3" fill="#6a0068" stroke="#222" stroke-width="1" />
<text x="347.68" y="705.37" font-size="10.60"  fill="#f0f080" textLength="33.63" lengthAdjust="spacingAndGlyphs" >REDES</text>
<text x="330.23" y="717.02" font-size="10.60"  fill="#f0f080" textLength="68.54" lengthAdjust="spacingAndGlyphs" >EMERGENTES</text>
<rect x="305.00" y="741.30" width="119.00" height="47.00" rx="3" fill="#6a0068" stroke="#222" stroke-width="1" />
<text x="347.68" y="762.37" font-size="10.60"  fill="#f0f080" textLength="33.63" lengthAdjust="spacingAndGlyphs" >REDES</text>
<text x="323.20" y="774.02" font-size="10.60"  fill="#f0f080" textLength="82.59" lengthAdjust="spacingAndGlyphs" >EMPRESARIALES</text>
<rect x="305.00" y="798.40" width="119.00" height="47.00" rx="3" fill="#6a0068" stroke="#222" stroke-width="1" />
<text x="315.58" y="819.47" font-size="10.60"  fill="#f0f080" textLength="97.85" lengthAdjust="spacingAndGlyphs" >PROGRAMABILIDAD</text>
<text x="339.08" y="831.12" font-size="10.60"  fill="#f0f080" textLength="50.83" lengthAdjust="spacingAndGlyphs" >DE REDES</text>
<rect x="305.00" y="855.50" width="119.00" height="47.00" rx="3" fill="#6a0068" stroke="#222" stroke-width="1" />
<text x="320.21" y="876.57" font-size="10.60"  fill="#f0f080" textLength="88.57" lengthAdjust="spacingAndGlyphs" >OPERACIONES DE</text>
<text x="319.62" y="888.22" font-size="10.60"  fill="#f0f080" textLength="89.76" lengthAdjust="spacingAndGlyphs" >CIBERSEGURIDAD</text>
<rect x="440.9" y="606.2" width="421.9" height="191.4" fill="#f0f0f0" stroke="none"/>
<rect x="440.9" y="606.2" width="421.9" height="18.4" fill="#c080ff" stroke="none"/>
<rect x="440.9" y="606.2" width="421.9" height="191.4" fill="none" rx="2" stroke="#333" stroke-width="1" stroke-dasharray="4.6,2.2"/>
<text x="523.27" y="621.00" font-size="14.20" font-weight="bold" fill="#000" textLength="257.16" lengthAdjust="spacingAndGlyphs" >CRÉDITOS POR ÁREA DISCIPLINAR</text>
<rect x="453.20" y="638.30" width="336.50" height="23.80" rx="3" fill="#2b4bff" stroke="#222" stroke-width="1" />
<text x="461.50" y="654.50" font-size="12.35" font-weight="bold" fill="#000" textLength="241.56" lengthAdjust="spacingAndGlyphs" >Etapa de Formación Institucional-EFI</text>
<rect x="796.50" y="638.30" width="54.00" height="23.80" rx="3" fill="#f5f5f5" stroke="#333" stroke-width="1" />
<text x="815.85" y="654.50" font-size="11.66" font-weight="bold" fill="#000" textLength="15.31" lengthAdjust="spacingAndGlyphs" >36</text>
<rect x="453.20" y="667.00" width="336.50" height="23.80" rx="3" fill="#8bc400" stroke="#222" stroke-width="1" />
<text x="458.50" y="683.20" font-size="12.35" font-weight="bold" fill="#000" textLength="268.14" lengthAdjust="spacingAndGlyphs" >Núcleo Básico por Ärea Disciplinar-NBAD</text>
<rect x="796.50" y="667.00" width="54.00" height="23.80" rx="3" fill="#f5f5f5" stroke="#333" stroke-width="1" />
<text x="815.85" y="683.20" font-size="11.66" font-weight="bold" fill="#000" textLength="15.31" lengthAdjust="spacingAndGlyphs" >64</text>
<rect x="453.20" y="695.70" width="336.50" height="23.80" rx="3" fill="#44c1c1" stroke="#222" stroke-width="1" />
<text x="458.50" y="711.90" font-size="12.35" font-weight="bold" fill="#000" textLength="324.56" lengthAdjust="spacingAndGlyphs" >Núcleo Profesional de Formación Específica-NPFE</text>
<rect x="796.50" y="695.70" width="54.00" height="23.80" rx="3" fill="#f5f5f5" stroke="#333" stroke-width="1" />
<text x="812.02" y="711.90" font-size="11.66" font-weight="bold" fill="#000" textLength="22.96" lengthAdjust="spacingAndGlyphs" >241</text>
<rect x="453.20" y="724.40" width="336.50" height="23.80" rx="3" fill="#f283c1" stroke="#222" stroke-width="1" />
<text x="458.50" y="740.60" font-size="12.35" font-weight="bold" fill="#000" textLength="261.98" lengthAdjust="spacingAndGlyphs" >Etapa de Integración y Vinculación-EIyV</text>
<rect x="796.50" y="724.40" width="54.00" height="23.80" rx="3" fill="#f5f5f5" stroke="#333" stroke-width="1" />
<text x="815.85" y="740.60" font-size="11.66" font-weight="bold" fill="#000" textLength="15.31" lengthAdjust="spacingAndGlyphs" >63</text>
<rect x="736.00" y="760.70" width="53.70" height="24.60" rx="3" fill="#f5f5f5" stroke="#333" stroke-width="1" />
<text x="741.56" y="777.50" font-size="12.72" font-weight="bold" fill="#000" textLength="42.57" lengthAdjust="spacingAndGlyphs" >TOTAL</text>
<rect x="796.50" y="760.70" width="54.00" height="24.60" rx="3" fill="#6a006a" stroke="#222" stroke-width="1" />
<text x="810.98" y="777.30" font-size="12.72" font-weight="bold" fill="#ffff80" textLength="25.05" lengthAdjust="spacingAndGlyphs" >404</text>
<rect x="875.60" y="606.60" width="405.10" height="235.60" rx="2" fill="#c4ffff" stroke="#444" stroke-width="1" />
<rect x="913" y="610" width="313.6" height="18.2" fill="#0c0860"/>
<text x="914.50" y="624.10" font-size="14.20" font-weight="bold" fill="#ffff80" textLength="310.61" lengthAdjust="spacingAndGlyphs" >NOTAS ESENCIALES A TOMAR EN CUENTA</text>
<text x="882.60" y="654.70" font-size="12.35"  fill="#111" textLength="375.44" lengthAdjust="spacingAndGlyphs" >* Si cuentas con una certificación vigente de Inglés, equivalente</text>
<text x="883.60" y="668.70" font-size="12.35"  fill="#111" textLength="339.84" lengthAdjust="spacingAndGlyphs" > al A2 del Marco común europeo, no será necesario cursar</text>
<text x="882.60" y="681.90" font-size="12.35"  fill="#111" textLength="106.19" lengthAdjust="spacingAndGlyphs" >las UAPs de Inglés</text>
<text x="890.90" y="714.40" font-size="12.35"  fill="#111" textLength="326.10" lengthAdjust="spacingAndGlyphs" >** Las Actividades no escolares, corresponden a cursos,</text>
<text x="890.90" y="727.70" font-size="12.35"  fill="#111" textLength="308.92" lengthAdjust="spacingAndGlyphs" >talleres u otras actividades realizadas fuera del aula.</text>
<text x="890.90" y="741.30" font-size="12.35"  fill="#111" textLength="214.33" lengthAdjust="spacingAndGlyphs" >Debes acumular al menos 100 horas</text>
<text x="893.20" y="764.20" font-size="10.60"  fill="#111" textLength="325.28" lengthAdjust="spacingAndGlyphs" >*** Para realizar el Servicio Social, debes haber aprobado el 70%</text>
<text x="956.90" y="776.30" font-size="10.60"  fill="#111" textLength="197.33" lengthAdjust="spacingAndGlyphs" >de créditos del plan o sea, 278 créditos</text>
<text x="890.90" y="805.00" font-size="10.60"  fill="#111" textLength="318.13" lengthAdjust="spacingAndGlyphs" >**** Debes haber aprobado al menos 319 créditos de plan para</text>
<text x="947.30" y="816.60" font-size="10.60"  fill="#111" textLength="205.49" lengthAdjust="spacingAndGlyphs" >poder realizar las prácticas profesionales</text>
</svg>
</body></html>
